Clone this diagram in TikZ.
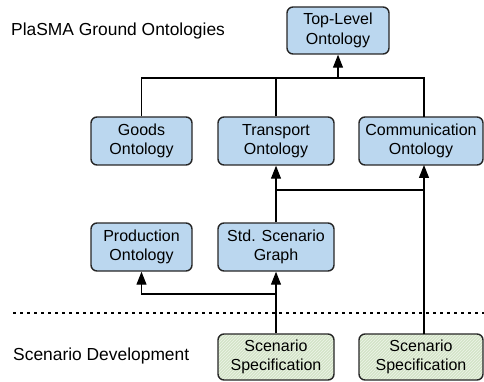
\documentclass[tikz,border=0pt]{standalone}
\usepackage{fontspec}
\setmainfont{Liberation Sans}
\usetikzlibrary{arrows.meta,patterns}
\definecolor{boxblue}{HTML}{BBD7EF}
\definecolor{boxgreen}{HTML}{D3E4C8}
\definecolor{hatchgreen}{HTML}{EEF5EA}
\begin{document}
\begin{tikzpicture}[x=1pt,y=-1pt,
  onto/.style={draw=black!85,line width=1.4pt,rounded corners=6pt,fill=boxblue,
    align=center,inner sep=0pt,font=\fontsize{16}{19.5}\selectfont},
  specbox/.style={draw=black!85,line width=1.4pt,rounded corners=6pt,
    preaction={fill=boxgreen},pattern=north east lines,pattern color=hatchgreen,
    align=center,inner sep=0pt,font=\fontsize{16}{19.5}\selectfont},
  conn/.style={line width=1.2pt},
  arr/.style={conn,-{Triangle[width=10pt,length=13pt]}},
  lbl/.style={anchor=west,inner sep=0pt,font=\fontsize{17.4}{20}\selectfont}]
\useasboundingbox (0,0) rectangle (484,382);
% nodes
\node[onto,minimum width=102pt,minimum height=47pt] (top) at (338,30.5) {Top-Level\\Ontology};
\node[onto,minimum width=101pt,minimum height=48pt] (goods) at (141.5,141) {Goods\\Ontology};
\node[onto,minimum width=116pt,minimum height=48pt] (transport) at (276,141) {Transport\\Ontology};
\node[onto,minimum width=124pt,minimum height=48pt] (comm) at (421,141) {Communication\\Ontology};
\node[onto,minimum width=101pt,minimum height=48pt] (prod) at (141.5,247) {Production\\Ontology};
\node[onto,minimum width=116pt,minimum height=48pt] (std) at (276,247) {Std. Scenario\\Graph};
\node[specbox,minimum width=116pt,minimum height=46pt] (spec1) at (276,357) {Scenario\\Specification};
\node[specbox,minimum width=124pt,minimum height=46pt] (spec2) at (421,357) {Scenario\\Specification};
% labels
\node[lbl] (l1) at (11,31) {PlaSMA Ground Ontologies};
\node[lbl] (l2) at (13,356) {Scenario Development};
% helper coordinates
\coordinate (bus) at (338,78);
\coordinate (commtop) at (424,117);
\coordinate (commbot) at (424,165);
\coordinate (mid) at (424,190);
\coordinate (spec2top) at (424,334);
\coordinate (low) at (276,294);
\coordinate (dl) at (13,313);
\coordinate (dr) at (484,313);
% connectors
\draw[conn] (goods.north) |- (bus) -| (commtop);
\draw[conn] (transport.north) -- (transport.north |- bus);
\draw[arr] (bus) -- (top.south);
\draw[arr] (std.north) -- (transport.south);
\draw[conn] (std.north |- mid) -- (mid);
\draw[arr] (spec2top) -- (commbot);
\draw[arr] (spec1.north) -- (std.south);
\draw[arr] (low) -| (prod.south);
\draw[line width=1.2pt,dash pattern=on 3pt off 4pt] (dl) -- (dr);
\end{tikzpicture}
\end{document}
